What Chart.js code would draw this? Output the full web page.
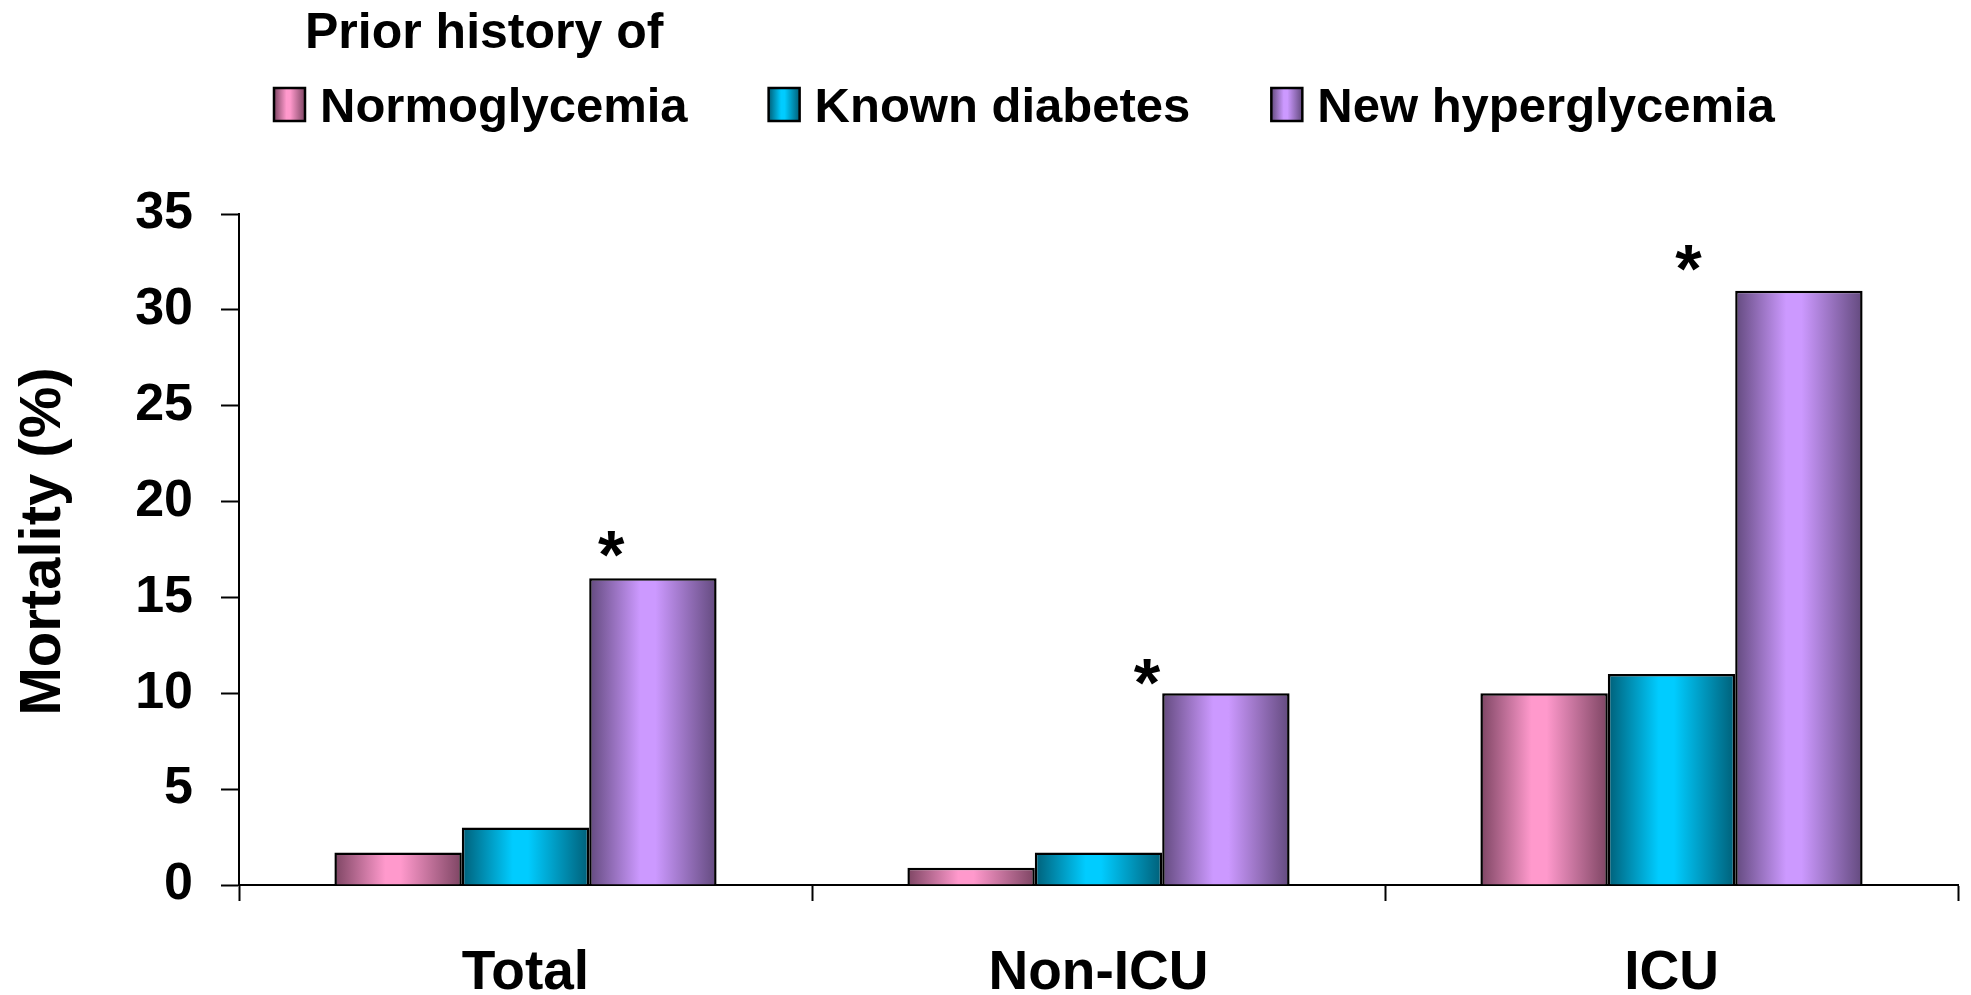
<!DOCTYPE html>
<html>
<head>
<meta charset="utf-8">
<title>Mortality by prior history</title>
<script src="https://cdn.jsdelivr.net/npm/chart.js@4/dist/chart.umd.min.js"></script>
<style>
    html, body { margin: 0; padding: 0; background: #fff; }
    canvas { display: block; }
</style>
</head>
<body>
<canvas id="mortalityChart" width="1971" height="995"></canvas>
<script>
// Data
const categories = ["Total", "Non-ICU", "ICU"];
const seriesNames = ["Normoglycemia", "Known diabetes", "New hyperglycemia"];
const normoglycemia = [1.7, 0.9, 10];
const knownDiabetes = [3.0, 1.7, 11];
const newHyperglycemia = [16, 10, 31];
const yMin = 0;
const yMax = 35;
const yStep = 5;
// significance stars: x in category units (offset from group centre), y in %
const starOffsets = [0.15, 0.085, 0.03];
const starValues = [17.8, 11.1, 32.7];

const FONT = '"Liberation Sans", Arial, sans-serif';
const CAT_PCT = 0.667;

// dark edge / light centre for each series
const shades = [
    { dark: "#7d4563", light: "#ff99cc" },
    { dark: "#005f78", light: "#00ccff" },
    { dark: "#634a7e", light: "#cc99ff" },
];

function shadeGradient(ctx, left, right, shade) {
    const g = ctx.createLinearGradient(left, 0, right, 0);
    g.addColorStop(0, shade.dark);
    g.addColorStop(0.4, shade.light);
    g.addColorStop(0.52, shade.light);
    g.addColorStop(1, shade.dark);
    return g;
}

// Each bar gets its own horizontal gradient, computed from the category scale
function barFill(c) {
    const shade = shades[c.datasetIndex];
    const chart = c.chart;
    if (!chart.chartArea || c.type !== "data") return shade.light;
    const x = chart.scales.x;
    const groupW = (x.width / categories.length) * CAT_PCT;
    const barW = groupW / seriesNames.length;
    const left = x.getPixelForValue(c.dataIndex) - groupW / 2 + c.datasetIndex * barW;
    return shadeGradient(chart.ctx, left, left + barW, shade);
}

// Legend with the "Prior history of" heading
const headerLegend = {
    id: "headerLegend",
    afterDraw(chart) {
        const ctx = chart.ctx;
        ctx.save();
        ctx.fillStyle = "#000";
        ctx.textBaseline = "alphabetic";
        ctx.font = `bold 50px ${FONT}`;
        ctx.fillText("Prior history of", 305, 48);

        ctx.font = `bold 49px ${FONT}`;
        let x = 274;
        const boxW = 31, boxH = 33, boxTop = 88;
        seriesNames.forEach((name, i) => {
            ctx.fillStyle = shadeGradient(ctx, x, x + boxW, shades[i]);
            ctx.fillRect(x, boxTop, boxW, boxH);
            ctx.lineWidth = 2.5;
            ctx.strokeStyle = "#000";
            ctx.strokeRect(x, boxTop, boxW, boxH);
            ctx.fillStyle = "#000";
            const tx = x + boxW + 15;
            ctx.fillText(name, tx, 122);
            x = tx + ctx.measureText(name).width + 81;
        });
        ctx.restore();
    },
};

// Asterisks marking significant differences
const stars = {
    id: "stars",
    afterDatasetsDraw(chart) {
        const ctx = chart.ctx;
        const { x, y } = chart.scales;
        ctx.save();
        ctx.fillStyle = "#000";
        ctx.font = `bold 68px ${FONT}`;
        const m = ctx.measureText("*");
        const cx = (m.actualBoundingBoxRight - m.actualBoundingBoxLeft) / 2;
        const cy = (m.actualBoundingBoxAscent - m.actualBoundingBoxDescent) / 2;
        ctx.textBaseline = "alphabetic";
        ctx.textAlign = "left";
        starValues.forEach((v, i) => {
            const px = x.getPixelForValue(i + starOffsets[i]);
            const py = y.getPixelForValue(v);
            ctx.fillText("*", px - cx, py + cy);
        });
        ctx.restore();
    },
};

const ctx = document.getElementById("mortalityChart").getContext("2d");
new Chart(ctx, {
    type: "bar",
    data: {
        labels: categories,
        datasets: [normoglycemia, knownDiabetes, newHyperglycemia].map((values, i) => ({
            label: seriesNames[i],
            data: values,
            backgroundColor: barFill,
            borderColor: "#000",
            borderWidth: 2.5,
            borderSkipped: "bottom",
            categoryPercentage: CAT_PCT,
            barPercentage: 1.0,
        })),
    },
    options: {
        responsive: false,
        animation: false,
        devicePixelRatio: 1,
        layout: { padding: { top: 214, right: 13, left: 0, bottom: 0 } },
        plugins: {
            legend: { display: false },
            tooltip: { enabled: false },
        },
        scales: {
            x: {
                afterFit: (axis) => { axis.height = 110; },
                grid: {
                    offset: true,
                    drawOnChartArea: false,
                    tickLength: 16,
                    tickColor: "#000",
                    tickWidth: 2,
                },
                border: { color: "#000", width: 2 },
                ticks: {
                    color: "#000",
                    padding: 40,
                    font: { family: FONT, size: 55, weight: "bold" },
                },
            },
            y: {
                min: yMin,
                max: yMax,
                afterFit: (axis) => { axis.width = 239; },
                grid: {
                    drawOnChartArea: false,
                    tickLength: 18,
                    tickColor: "#000",
                    tickWidth: 2,
                },
                border: { color: "#000", width: 2 },
                ticks: {
                    stepSize: yStep,
                    color: "#000",
                    padding: 28,
                    font: { family: FONT, size: 52, weight: "bold" },
                },
                title: {
                    display: true,
                    // leading space nudges the rotated title a little upward
                    text: " Mortality (%)",
                    color: "#000",
                    padding: { top: 9, bottom: 0 },
                    font: { family: FONT, size: 58, weight: "bold" },
                },
            },
        },
    },
    plugins: [headerLegend, stars],
});
</script>
</body>
</html>
